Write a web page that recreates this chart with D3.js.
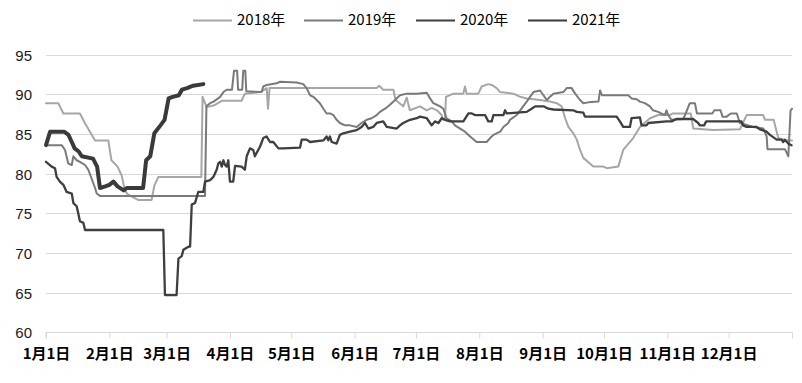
<!DOCTYPE html>
<html><head><meta charset="utf-8">
<script src="https://cdn.jsdelivr.net/npm/d3@7/dist/d3.min.js"></script>
<style>
html,body{margin:0;padding:0;background:#fff;}
svg{display:block;}
</style></head>
<body>
<svg id="chart" width="802" height="383"></svg>
<script>
// ---- data (day of year offset from Jan 1, value) ----
const seriesNames = ["2018年", "2019年", "2020年", "2021年"];
const monthLabels = ["1月1日","2月1日","3月1日","4月1日","5月1日","6月1日","7月1日","8月1日","9月1日","10月1日","11月1日","12月1日"];
const monthDays = [0,31,59,90,120,151,181,212,243,273,304,334];
const yTicks = [60,65,70,75,80,85,90,95];

const s2018 = [[0,88.9],[6,88.9],[8.5,87.6],[16.6,87.6],[19,86.4],[21.5,85.3],[24,84.2],[30.5,84.2],[32,81.7],[35,80.9],[37,79.8],[38.6,77.9],[40,77.4],[45,76.7],[51.7,76.7],[53,78.5],[55,79.6],[76,79.6],[76.6,89.7],[78.6,88.4],[82,88.6],[86,89.2],[95.7,89.2],[97.3,90.1],[105,90.3],[108,90.8],[108.6,88.2],[109.4,90.8],[161.8,90.8],[163,91.1],[165,90.6],[170,90.6],[171,89.3],[174.8,88.5],[176.5,89.6],[178,88.0],[183,88.5],[186.3,88.0],[188.7,88.3],[191.2,88.0],[193.6,87.4],[194.4,86.8],[195.2,86.8],[195.7,89.7],[199.3,90.1],[204.2,90.1],[205,91.0],[205.8,90.1],[211.5,90.1],[213.2,91.0],[216.4,91.3],[218.1,91.2],[220.5,90.8],[222.2,90.3],[228.7,90.1],[232,89.7],[235.2,89.5],[241.7,89.3],[246.6,89.1],[249.9,88.9],[252.3,88.5],[254,87.0],[255.6,85.9],[258,85.1],[259.7,84.3],[261.3,83.0],[262.9,82.0],[267.8,80.9],[272.7,80.9],[274.4,80.7],[280,80.9],[282.4,83.0],[287.3,84.5],[290.6,85.9],[295.5,87.0],[299.5,87.4],[305.3,87.4],[306.5,87.6],[315.5,87.6],[316.7,85.7],[326.5,85.5],[339.5,85.6],[342.8,87.4],[350.9,87.4],[351.8,86.8],[356,86.8],[357.5,85.3],[358.3,84.5],[362,84.2],[365,84.2]];

const s2019 = [[0,83.6],[7.7,83.6],[9.3,83.0],[10.9,81.3],[12.6,81.1],[13.4,82.2],[15,81.7],[16.6,81.5],[19.1,81.1],[20.7,80.5],[22.3,79.4],[24,78.2],[24.8,77.5],[26.4,77.2],[77.8,77.2],[78.5,88.5],[80.3,88.9],[82,89.1],[85.2,89.7],[86.8,90.3],[88.4,90.6],[91,90.6],[92,93.0],[93.5,93.0],[94,90.6],[96,90.6],[96.5,93.0],[97.5,93.0],[98,90.4],[105.5,90.3],[106.3,91.0],[108,91.2],[112.8,91.4],[114.5,91.6],[122.6,91.5],[125.9,91.3],[127.5,90.8],[129.2,89.9],[130.8,89.7],[132.4,89.3],[134,88.9],[135.7,88.2],[137.3,87.6],[139,87.6],[140.6,87.4],[142.2,86.8],[143.8,86.4],[146.3,86.1],[148.7,86.1],[152,85.9],[154.4,86.4],[156.9,86.8],[159.3,87.0],[161.8,87.4],[163.4,87.8],[165.9,88.2],[168.3,88.7],[170.8,89.3],[173.2,89.9],[176.5,90.1],[181.4,90.1],[186.3,90.2],[187.9,89.5],[189.5,88.9],[191.2,88.7],[192.8,88.5],[194.4,88.2],[196,87.0],[198.5,86.6],[200.1,86.1],[202.6,85.7],[205,85.3],[207.5,84.7],[210.7,84.0],[215.6,84.0],[217.3,84.5],[218.9,84.9],[222.2,85.3],[223.8,85.9],[226.2,86.4],[227,86.8],[230.3,87.4],[232,88.0],[235.2,89.1],[236.8,89.7],[238.5,90.3],[241.7,90.5],[243.4,89.9],[245,89.3],[246.6,89.7],[248.3,90.1],[253.1,90.3],[254.8,90.8],[257.2,90.8],[258.9,90.1],[261.3,89.3],[262.9,88.9],[265.4,89.0],[270.3,89.1],[271.1,90.5],[272,89.9],[284.9,89.9],[286.5,89.5],[289,89.4],[290.6,89.1],[293,88.9],[295.5,88.5],[297,88.0],[299.5,87.8],[301,87.6],[302.8,87.4],[303.6,88.0],[304.4,87.4],[306,86.8],[311.8,86.9],[313,87.6],[315,88.9],[317.5,88.9],[318.5,87.6],[326,87.6],[327,88.0],[330,88.0],[331,87.2],[333,87.2],[335,87.6],[338,87.6],[339.5,86.4],[342,86.2],[346,85.9],[351,85.7],[352.6,84.7],[353,83.1],[361.5,83.1],[362.5,82.6],[363.2,82.2],[364.3,88.0],[365,88.2]];

const s2020 = [[0,81.5],[2.8,80.9],[4.4,80.7],[5.2,79.6],[6.8,79.0],[8.5,78.6],[10.1,77.7],[12.6,77.5],[13.4,76.3],[15,75.9],[15.8,75.0],[16.6,74.0],[18.3,73.8],[19.1,72.9],[57.4,72.9],[58.2,64.7],[63.9,64.7],[64.8,69.3],[66.4,69.6],[67.2,70.4],[69.7,70.8],[70.5,70.8],[71.3,76.1],[72.9,76.3],[74.5,77.7],[77,77.7],[77.8,79.0],[80.3,79.2],[81.9,79.6],[83.5,80.5],[84.3,81.3],[85.2,81.5],[86,80.9],[86.8,81.7],[87.6,81.1],[88.4,80.9],[89.2,81.7],[90,79.0],[91.6,79.0],[92.5,81.0],[95.7,80.9],[97.3,80.5],[98.2,82.2],[99.8,83.2],[101.4,83.0],[102.2,82.2],[103,82.6],[104.7,83.4],[106.3,84.5],[107.9,84.7],[109.6,84.0],[111.2,84.0],[113.7,83.2],[116.1,83.2],[124.3,83.3],[125.1,84.3],[127.5,84.3],[129.2,84.0],[135.7,84.2],[137.3,84.7],[138.1,84.2],[138.9,84.7],[139.8,84.0],[142.2,83.8],[143.8,84.9],[145.5,85.1],[148.7,85.3],[152,85.5],[154.4,85.9],[156.1,86.4],[157.7,85.7],[160.1,85.9],[161.8,86.4],[165,86.6],[166.7,85.9],[171.6,85.7],[173.2,86.1],[174.8,86.4],[178.1,86.8],[181.4,87.0],[183,87.2],[186.3,87.0],[188.7,86.1],[190.3,86.6],[192,86.4],[193.6,87.0],[195.2,86.8],[197.7,86.6],[204.2,86.6],[206.7,87.6],[208.3,87.6],[209.9,87.4],[214.8,87.4],[216.4,86.6],[218.1,86.6],[218.9,87.4],[223.8,87.4],[224.6,88.0],[225.4,87.6],[230.3,87.7],[235.2,87.8],[237.6,88.2],[239.3,88.5],[243.4,88.5],[245.8,88.2],[248.3,88.1],[258,88.0],[259.7,87.8],[262.9,87.7],[263.7,87.2],[279.2,87.2],[280.8,86.6],[282.4,85.9],[285.7,85.9],[286.5,87.0],[290.6,87.1],[291.4,86.1],[293.8,86.1],[294.7,86.4],[303.6,86.6],[306.1,86.6],[308.5,86.9],[316.7,86.9],[319.1,86.4],[319.9,86.1],[322,86.1],[323,86.6],[340.3,86.6],[341.1,86.1],[342.8,85.9],[347.7,85.9],[349.3,85.6],[352.6,85.3],[354.2,84.9],[357.5,84.3],[359.9,84.3],[360.7,84.0],[361.5,84.3],[363.2,83.8],[364.8,83.6]];

const s2021 = [[0,83.6],[2,85.3],[9,85.3],[11,84.9],[12.6,84.0],[14,83.2],[16,82.8],[17.5,82.2],[23,81.9],[25,80.9],[26.4,78.2],[29,78.4],[31,78.6],[33,79.0],[35,78.4],[38,77.9],[39.5,78.2],[47.5,78.2],[49,81.7],[51,82.2],[53,85.1],[56,86.1],[58,86.8],[60,89.5],[62,89.7],[65,89.9],[66.5,90.6],[69,90.8],[72,91.1],[77,91.3]];

const seriesData = [s2018, s2019, s2020, s2021];
const seriesColors = ["#a6a6a6", "#7a7a7a", "#3f3f3f", "#3a3a3a"];
const seriesWidths = [2, 2, 2.3, 4];

// ---- drawing ----
const svg = d3.select("#chart");
svg.append("rect").attr("width", 802).attr("height", 383).attr("fill", "#fff");

const x = d3.scaleLinear().domain([0, 365]).range([46, 792]);
const y = d3.scaleLinear().domain([60, 95]).range([332.3, 54.8]);

// gridlines
svg.append("g").selectAll("line").data(yTicks.filter(t => t > 60)).join("line")
  .attr("x1", x(0)).attr("x2", x(365))
  .attr("y1", d => Math.round(y(d)) + 0.5).attr("y2", d => Math.round(y(d)) + 0.5)
  .attr("stroke", "#d9d9d9").attr("stroke-width", 1);

// y axis labels
const yAxis = d3.axisLeft(y).tickValues(yTicks).tickSize(0).tickPadding(0);
const gy = svg.append("g").attr("transform", "translate(32,0)").call(yAxis);
gy.select(".domain").remove();
gy.selectAll("text").attr("font-family", "'Liberation Sans', Arial, sans-serif")
  .attr("font-size", 15).attr("fill", "#1a1a1a").attr("dy", "0.36em");

// x axis
const xAxis = d3.axisBottom(x).tickValues(monthDays.concat([365])).tickSize(6)
  .tickFormat((d, i) => i < monthLabels.length ? monthLabels[i] : "");
const gx = svg.append("g").attr("transform", `translate(0,${Math.round(y(60)) + 0.5})`).call(xAxis);
gx.select(".domain").attr("stroke", "#d9d9d9").attr("d", `M${x(0)},6V0H${x(365)}`);
gx.selectAll(".tick line").attr("stroke", "#d9d9d9");
gx.selectAll("text").attr("font-family", "'Noto Sans CJK SC', sans-serif")
  .attr("font-size", 15).attr("font-weight", "bold").attr("fill", "#000")
  .attr("y", 16);

// lines
const line = d3.line().x(d => x(d[0])).y(d => y(d[1]));
svg.append("g").selectAll("path").data(seriesData).join("path")
  .attr("d", line).attr("fill", "none")
  .attr("stroke", (d, i) => seriesColors[i])
  .attr("stroke-width", (d, i) => seriesWidths[i])
  .attr("stroke-linejoin", "round").attr("stroke-linecap", "round");

// legend
const legendX = [193, 304, 416, 528];
const lg = svg.append("g").selectAll("g").data(seriesNames).join("g")
  .attr("transform", (d, i) => `translate(${legendX[i]},20)`);
lg.append("line").attr("x1", 0).attr("x2", 39).attr("y1", 0.5).attr("y2", 0.5)
  .attr("stroke", (d, i) => seriesColors[i]).attr("stroke-width", 2);
lg.append("text").attr("x", 44).attr("y", 0).attr("dy", "0.36em")
  .attr("font-family", "'Noto Sans CJK SC', sans-serif").attr("font-size", 15)
  .attr("fill", "#000").text(d => d);
</script>
</body></html>
